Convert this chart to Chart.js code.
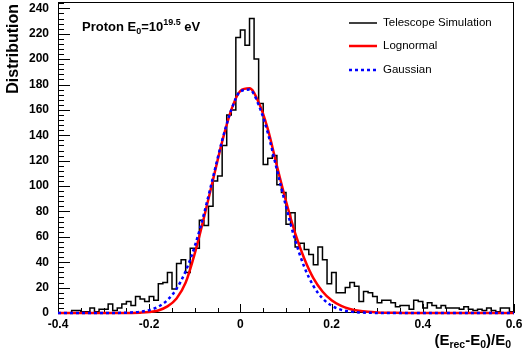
<!DOCTYPE html>
<html>
<head>
<meta charset="utf-8">
<script src="https://cdn.jsdelivr.net/npm/chart.js@4/dist/chart.umd.min.js"></script>
<style>
  html, body { margin: 0; padding: 0; background: #fff; }
  #wrap { width: 523px; height: 356px; }
</style>
</head>
<body>
<div id="wrap"><canvas id="myChart" width="523" height="356"></canvas></div>
<script>
// histogram: 100 bins of width 0.01 from -0.4 to 0.6
const binStart = -0.4;
const binWidth = 0.01;
const simCounts = [
  0, 0, 0, 2, 2, 1, 1, 4, 1, 3,
  3, 7, 2, 4, 7, 9, 6, 13, 11, 9,
  13, 10, 23, 24, 32, 19, 39, 42, 32, 51,
  51, 73, 69, 84, 104, 108, 132, 156, 160, 217,
  223, 211, 232, 200, 165, 117, 122, 124, 101, 95,
  70, 79, 52, 55, 50, 46, 38, 52, 42, 23,
  32, 16, 16, 20, 24, 21, 9, 17, 16, 13,
  8, 10, 10, 8, 5, 6, 6, 3, 10, 9,
  4, 8, 6, 4, 6, 4, 4, 4, 3, 5,
  3, 2, 3, 2, 4, 2, 1, 4, 4, 1,
];

// fit curves
const fitX = [
  -0.40, -0.30, -0.28, -0.26, -0.24, -0.22, -0.20, -0.18, -0.16, -0.14,
  -0.12, -0.10, -0.08, -0.06, -0.04, -0.02, 0.00, 0.02, 0.04, 0.06,
  0.08, 0.10, 0.12, 0.14, 0.16, 0.18, 0.20, 0.22, 0.24, 0.26,
  0.28, 0.30, 0.32, 0.34, 0.36, 0.38, 0.40, 0.60,
];
const lognormalY = [
  0, 0, 0, 0.02, 0.08, 0.25, 0.7, 2.0, 5.2, 11.5,
  24, 47, 75, 105, 135, 160, 175, 177, 166, 145,
  116, 88, 63, 43, 27.5, 17, 10, 5.8, 3.2, 1.7,
  0.9, 0.45, 0.2, 0.1, 0.04, 0, 0, 0,
];
const gaussianY = [
  0, 0, 0.03, 0.14, 0.4, 1.0, 2.3, 5.0, 10.2, 19.1,
  33, 52.7, 78, 107, 136, 160, 174.6, 176, 164, 142,
  113, 84, 57.5, 36.4, 21.4, 11.6, 5.8, 2.7, 1.2, 0.47,
  0.17, 0.06, 0.02, 0, 0, 0, 0, 0,
];

const xTicks = [-0.4, -0.2, 0, 0.2, 0.4, 0.6];
const yTicks = [0, 20, 40, 60, 80, 100, 120, 140, 160, 180, 200, 220, 240];

const FONT = "'Liberation Sans', Arial, Helvetica, sans-serif";

const histPoints = simCounts.map((c, i) => ({ x: binStart + i * binWidth, y: c }));
histPoints.push({ x: 0.6, y: simCounts[simCounts.length - 1] });

// draw text pieces with sub/superscripts: [text, size, dy]
function drawRich(ctx, parts, x, y, measureOnly) {
  let cx = x;
  parts.forEach((p) => {
    ctx.font = "bold " + p[1] + "px " + FONT;
    if (!measureOnly) ctx.fillText(p[0], cx, y + p[2]);
    cx += ctx.measureText(p[0]).width;
  });
  return cx - x;
}

const decorations = {
  id: "decorations",
  beforeDatasetsDraw(chart) {
    const { ctx, chartArea: a, scales } = chart;
    const xs = scales.x;
    const ys = scales.y;
    ctx.save();
    ctx.strokeStyle = "#000";
    ctx.lineWidth = 1;

    // frame
    ctx.strokeRect(a.left + 0.5, a.top + 0.5, a.right - a.left - 1, a.bottom - a.top - 1);

    // inward ticks on y
    ctx.beginPath();
    for (let v = 0; v <= 244; v += 4) {
      const py = Math.round(ys.getPixelForValue(v)) + 0.5;
      const len = v % 20 === 0 ? 12 : 6;
      ctx.moveTo(a.left, py);
      ctx.lineTo(a.left + len, py);
    }
    // inward ticks on x
    for (let k = 0; k <= 20; k++) {
      const v = -0.4 + k * 0.05;
      const px = Math.round(xs.getPixelForValue(v)) + 0.5;
      const len = k % 4 === 0 ? 9 : 5;
      ctx.moveTo(px, a.bottom);
      ctx.lineTo(px, a.bottom - len);
    }
    ctx.stroke();
    ctx.restore();
  },
  afterDraw(chart) {
    const { ctx, chartArea: a } = chart;
    ctx.save();
    ctx.fillStyle = "#000";

    // y title
    ctx.save();
    ctx.translate(14, a.top + 2);
    ctx.rotate(-Math.PI / 2);
    ctx.textAlign = "right";
    ctx.textBaseline = "middle";
    ctx.font = "bold 16px " + FONT;
    ctx.fillText("Distribution", 0, 0);
    ctx.restore();

    // x title
    ctx.textAlign = "left";
    ctx.textBaseline = "alphabetic";
    const xt = [
      ["(E", 15, 0], ["rec", 10.5, 3], ["-E", 15, 0], ["0", 10.5, 3], [")/E", 15, 0], ["0", 10.5, 3],
    ];
    const w = drawRich(ctx, xt, 0, 0, true);
    drawRich(ctx, xt, 511 - w, 345, false);

    // energy label
    drawRich(ctx, [
      ["Proton E", 13, 0], ["0", 9, 3], ["=10", 13, 0], ["19.5", 9, -6], [" eV", 13, 0],
    ], 82, 31, false);

    // legend
    const rowsY = [23, 46, 70];
    ctx.font = "11.5px " + FONT;
    ctx.textBaseline = "middle";
    chart.data.datasets.forEach((d, i) => {
      ctx.save();
      ctx.strokeStyle = d.borderColor;
      ctx.lineWidth = d.borderWidth;
      ctx.setLineDash(d.borderDash || []);
      ctx.beginPath();
      ctx.moveTo(349, rowsY[i]);
      ctx.lineTo(377, rowsY[i]);
      ctx.stroke();
      ctx.restore();
      ctx.fillStyle = "#000";
      ctx.fillText(d.label, 383, rowsY[i]);
    });
    ctx.restore();
  },
};

const ctx = document.getElementById("myChart").getContext("2d");
const myChart = new Chart(ctx, {
  type: "line",
  data: {
    datasets: [
      {
        label: "Telescope Simulation",
        data: histPoints,
        stepped: "before",
        borderColor: "#000",
        borderWidth: 1.5,
        pointRadius: 0,
        fill: false,
        order: 3,
      },
      {
        label: "Lognormal",
        data: fitX.map((x, i) => ({ x: x, y: lognormalY[i] })),
        borderColor: "#ff0000",
        borderWidth: 2.5,
        pointRadius: 0,
        cubicInterpolationMode: "monotone",
        fill: false,
        clip: 4,
        order: 2,
      },
      {
        label: "Gaussian",
        data: fitX.map((x, i) => ({ x: x, y: gaussianY[i] })),
        borderColor: "#0000ff",
        borderWidth: 2.5,
        borderDash: [3, 3],
        pointRadius: 0,
        cubicInterpolationMode: "monotone",
        fill: false,
        clip: 4,
        order: 1,
      },
    ],
  },
  options: {
    responsive: false,
    animation: false,
    events: [],
    layout: { padding: { top: 2, right: 9, left: 0, bottom: 0 } },
    plugins: { legend: { display: false }, tooltip: { enabled: false } },
    scales: {
      x: {
        type: "linear",
        min: -0.4,
        max: 0.6,
        grid: { display: false, drawTicks: false },
        border: { display: false },
        afterBuildTicks: (s) => { s.ticks = xTicks.map((v) => ({ value: v })); },
        afterFit: (s) => { s.height = 43; s.paddingLeft = 0; s.paddingRight = 0; },
        ticks: {
          padding: 4,
          color: "#000",
          autoSkip: false,
          maxRotation: 0,
          font: { family: FONT, size: 12, weight: "bold" },
          callback: (v) => (v === 0 ? "0" : Number(v).toFixed(1)),
        },
      },
      y: {
        min: 0,
        max: 245,
        grid: { display: false, drawTicks: false },
        border: { display: false },
        afterBuildTicks: (s) => { s.ticks = yTicks.map((v) => ({ value: v })); },
        afterFit: (s) => { s.width = 58; s.paddingTop = 0; s.paddingBottom = 0; },
        ticks: {
          padding: 9,
          color: "#000",
          font: { family: FONT, size: 12, weight: "bold" },
        },
      },
    },
  },
  plugins: [decorations],
});
</script>
</body>
</html>
